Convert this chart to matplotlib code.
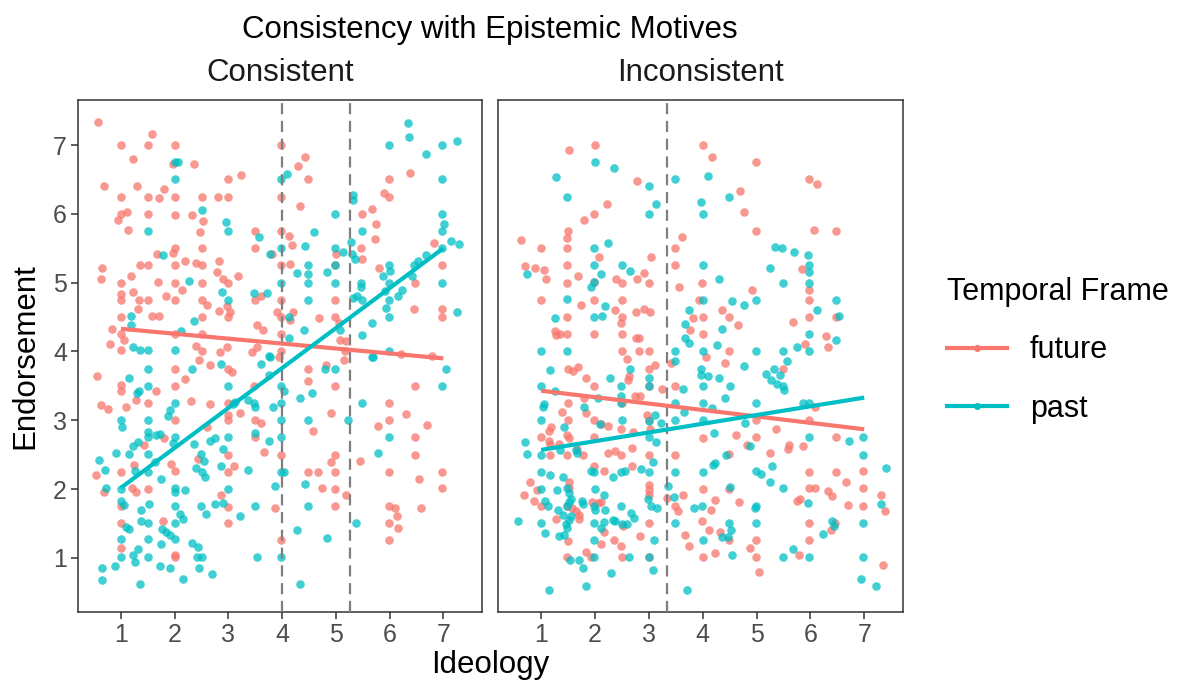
import numpy as np
import matplotlib
matplotlib.use("Agg")
import matplotlib.pyplot as plt
from matplotlib.lines import Line2D

plt.rcParams["font.family"] = ["Liberation Sans", "DejaVu Sans"]

RED = "#F8766D"
TEAL = "#00BFC4"

# ---- data (Ideology, Endorsement) ----
cons_future = [
    (0.58, 7.33), (1.58, 7.16), (1.0, 7.0), (1.5, 7.0), (2.0, 7.0), (1.22, 6.79), (1.96, 6.73),
    (2.35, 6.73), (3.23, 6.56), (2.99, 6.5), (0.68, 6.41), (1.29, 6.4), (1.8, 6.36), (1.0, 6.25),
    (1.5, 6.25), (1.7, 6.23), (2.0, 6.25), (2.5, 6.25), (2.8, 6.25), (3.0, 6.25), (1.0, 6.0),
    (1.12, 6.03), (0.94, 5.91), (1.5, 6.0), (2.0, 5.98), (2.32, 5.98), (2.53, 5.89), (1.14, 5.77),
    (2.47, 5.73), (3.49, 5.75), (3.49, 5.5), (2.0, 5.5), (1.96, 5.43), (1.67, 5.41), (2.5, 5.5),
    (0.64, 5.21), (0.62, 5.06), (1.36, 5.25), (1.5, 5.25), (2.0, 5.25), (2.19, 5.31), (2.39, 5.28),
    (2.5, 5.25), (2.83, 5.31), (2.78, 5.15), (2.9, 5.05), (2.99, 5.0), (3.18, 5.09), (1.0, 5.0),
    (1.19, 5.09), (1.68, 5.01), (2.0, 5.0), (2.5, 5.0), (2.14, 4.9), (1.0, 4.84), (1.23, 4.87),
    (1.0, 4.75), (1.34, 4.75), (1.5, 4.75), (1.83, 4.8), (2.0, 4.75), (2.5, 4.75), (2.6, 4.67),
    (2.97, 4.66), (3.49, 4.75), (3.61, 4.8), (2.82, 4.59), (3.02, 4.57), (1.32, 4.62), (1.0, 4.5),
    (1.58, 4.51), (1.7, 4.51), (2.5, 4.5), (3.0, 4.5), (0.84, 4.33), (1.0, 4.26), (1.06, 4.17),
    (2.0, 4.25), (2.5, 4.26), (3.53, 4.38), (3.65, 4.31), (0.8, 4.11), (1.0, 4.02), (2.39, 4.08),
    (2.5, 4.01), (2.97, 4.07), (2.84, 3.99), (3.43, 3.99), (3.53, 4.06),
    (3.98, 7.0), (4.42, 6.82), (4.3, 6.7), (4.49, 6.5), (3.98, 6.25), (4.34, 6.11), (3.98, 5.75),
    (4.12, 5.68), (4.18, 5.54), (3.82, 5.42), (3.98, 5.25), (4.15, 5.27), (3.98, 4.75), (3.91, 4.58),
    (3.98, 4.5), (4.15, 4.46), (4.2, 4.57), (3.98, 4.26), (3.98, 4.01), (4.69, 4.49), (4.98, 4.5),
    (5.01, 5.42), (4.98, 5.25), (4.98, 4.75), (5.05, 4.42), (5.08, 4.17), (5.19, 4.15), (5.17, 4.01),
    (5.48, 6.0), (5.47, 5.5), (5.48, 5.34), (5.68, 6.07), (5.75, 5.85), (5.73, 5.63), (5.81, 5.21),
    (5.89, 6.31), (5.98, 6.25), (5.98, 6.5), (6.38, 6.59), (6.47, 5.0), (6.46, 4.62), (6.83, 5.58),
    (6.97, 5.25), (6.97, 4.62), (6.97, 4.5), (6.21, 3.97), (6.78, 3.93),
    (0.56, 3.65), (1.0, 3.51), (1.0, 3.42), (0.63, 3.22), (0.75, 3.17), (1.09, 3.2), (1.28, 3.3),
    (1.5, 3.25), (1.66, 3.43), (2.0, 3.75), (2.0, 3.5), (2.2, 3.6), (2.3, 3.28), (2.0, 3.0),
    (2.45, 3.88), (2.66, 3.8), (2.99, 3.75), (3.06, 3.7), (2.66, 3.24), (2.99, 3.25), (2.99, 3.08),
    (2.99, 3.0), (3.22, 3.1), (2.61, 2.91), (3.47, 3.5), (3.49, 3.0), (3.61, 2.96), (3.49, 2.76),
    (3.67, 2.54), (1.43, 2.64), (1.81, 2.74), (1.25, 2.35), (1.0, 2.25), (0.53, 2.2), (0.68, 1.96),
    (1.21, 2.02), (1.28, 1.96), (1.5, 2.0), (1.93, 2.36), (2.0, 2.26), (2.43, 2.44), (2.99, 2.5),
    (2.99, 2.25), (3.11, 2.33), (2.86, 1.92), (2.99, 1.74), (2.99, 1.51), (1.0, 1.75), (1.0, 1.51),
    (1.79, 1.54), (1.0, 1.15), (2.0, 1.04), (2.0, 1.01),
    (3.95, 3.92), (4.49, 3.75), (4.82, 3.8), (5.16, 3.87), (4.49, 3.57), (4.98, 3.5), (4.91, 3.11),
    (4.58, 2.85), (3.98, 2.5), (4.98, 2.5), (4.9, 2.39), (5.44, 2.41), (4.49, 2.25), (4.67, 2.25),
    (4.98, 2.25), (4.75, 2.02), (4.98, 2.0), (5.18, 1.92), (4.98, 1.76), (3.87, 1.73), (3.98, 1.26),
    (5.78, 2.92), (5.98, 3.01), (5.98, 3.25), (6.31, 3.09), (6.7, 2.93), (6.47, 3.5), (6.47, 2.76),
    (6.47, 2.49), (5.98, 2.25), (6.54, 2.15), (6.97, 2.25), (6.97, 2.01), (5.98, 1.76), (6.1, 1.73),
    (6.13, 1.61), (6.15, 1.43), (5.98, 1.51), (5.98, 1.26), (6.59, 1.72),
]

cons_past = [
    (2.0, 6.75), (2.07, 6.76), (2.0, 6.5), (2.5, 6.06), (2.96, 5.88), (2.99, 5.75), (1.5, 5.75),
    (3.57, 5.66), (1.78, 5.4), (2.26, 5.03), (2.88, 4.87), (2.99, 4.75), (3.48, 4.85), (3.72, 4.85),
    (1.19, 4.51), (1.19, 4.38), (2.35, 4.45), (2.12, 4.3), (1.22, 4.07), (1.35, 4.02), (1.5, 4.02),
    (2.0, 4.02), (3.77, 5.42),
    (6.35, 7.32), (6.36, 7.11), (5.98, 7.0), (6.67, 6.87), (6.97, 7.0), (7.26, 7.06), (3.98, 6.5),
    (4.09, 6.58), (6.97, 6.5), (5.32, 6.28), (5.32, 6.2), (4.98, 6.0), (6.97, 6.0), (7.01, 5.85),
    (6.98, 5.75), (4.6, 5.73), (3.98, 5.5), (4.43, 5.53), (4.98, 5.5), (5.13, 5.45), (5.28, 5.59),
    (5.3, 5.42), (5.36, 5.35), (5.48, 5.75), (7.14, 5.61), (6.97, 5.5), (7.3, 5.56), (4.48, 5.25),
    (4.48, 5.13), (4.28, 5.14), (4.84, 5.15), (4.98, 5.25), (3.98, 5.0), (4.48, 5.0), (4.98, 5.0),
    (4.48, 4.75), (5.47, 5.0), (5.47, 4.93), (5.39, 4.8), (5.48, 4.75), (5.31, 4.78), (5.98, 5.25),
    (6.01, 5.17), (5.87, 5.09), (5.92, 4.88), (5.98, 5.0), (5.98, 4.75), (6.23, 4.89), (6.16, 4.81),
    (5.93, 4.63), (5.98, 4.5), (6.41, 5.09), (6.45, 5.25), (6.52, 5.32), (6.68, 5.4), (6.97, 5.0),
    (7.25, 4.58), (4.13, 4.5), (4.13, 4.19), (4.41, 4.31), (5.08, 4.31), (5.48, 4.24), (5.68, 4.41),
    (5.98, 4.01), (5.68, 3.92), (3.75, 3.94),
    (1.15, 3.62), (1.5, 3.75), (1.5, 3.5), (1.29, 3.39), (1.34, 3.43), (2.32, 3.75), (2.86, 3.82),
    (2.99, 3.5), (3.6, 3.82), (3.78, 3.92), (1.0, 3.0), (1.02, 2.9), (1.5, 3.0), (2.0, 3.25),
    (1.92, 3.15), (1.88, 3.06), (1.5, 2.83), (1.5, 2.76), (1.66, 2.78), (1.72, 2.8), (2.0, 2.76),
    (1.97, 2.67), (1.32, 2.68), (1.22, 2.62), (1.15, 2.51), (1.5, 2.51), (0.9, 2.52), (0.59, 2.43),
    (0.7, 2.28), (0.73, 2.01), (1.0, 2.0), (1.0, 1.83), (1.06, 1.77), (1.26, 2.27), (1.63, 2.39),
    (1.5, 2.25), (1.75, 2.15), (2.0, 2.01), (2.0, 1.96), (2.19, 1.99), (2.36, 2.65), (2.49, 2.51),
    (2.55, 2.41), (2.4, 2.3), (2.5, 2.25), (2.57, 2.18), (2.65, 2.7), (2.75, 2.75), (2.99, 2.76),
    (2.89, 2.58), (2.86, 2.33), (2.99, 2.0), (3.37, 2.28), (3.09, 3.23), (3.12, 3.26), (3.37, 3.29),
    (3.48, 3.25), (3.49, 3.2), (3.49, 2.82), (3.76, 2.7), (3.83, 3.19), (1.37, 1.7), (1.52, 1.79),
    (1.37, 1.54), (1.5, 1.51), (1.1, 1.45), (1.15, 1.42), (2.0, 1.76), (2.09, 1.64), (2.16, 1.57),
    (2.0, 1.51), (1.77, 1.42), (1.84, 1.38), (1.91, 1.33), (2.0, 1.27), (1.5, 1.27), (1.75, 1.2),
    (2.49, 1.76), (2.59, 1.64), (2.75, 1.79), (2.89, 1.8), (3.22, 1.61), (3.49, 1.75), (1.0, 1.27),
    (1.0, 1.01), (1.22, 1.04), (1.32, 1.13), (1.26, 0.94), (1.5, 1.01), (1.72, 0.88), (1.92, 0.85),
    (2.33, 1.22), (2.43, 1.16), (2.41, 1.02), (2.5, 1.01), (2.45, 0.85), (2.16, 0.7), (2.69, 0.76),
    (0.89, 0.88), (0.65, 0.85), (0.64, 0.68), (1.35, 0.62), (3.53, 1.02),
    (3.75, 3.66), (3.98, 3.5), (4.04, 3.42), (3.98, 3.25), (3.98, 3.01), (3.98, 2.76), (3.98, 2.25),
    (4.03, 2.25), (3.87, 2.04), (4.33, 3.32), (4.56, 3.39), (4.49, 3.01), (4.8, 3.75), (4.98, 3.75),
    (5.22, 3.0), (5.48, 3.25), (5.7, 3.92), (4.42, 2.07), (4.48, 1.76), (4.28, 1.41), (4.83, 1.29),
    (5.37, 1.51), (3.98, 1.01), (4.34, 0.62), (5.78, 2.52), (5.98, 2.76), (7.05, 3.75), (6.97, 3.5),
]

incons_future = [
    (1.51, 6.93), (2.0, 7.0), (2.79, 6.47), (2.22, 6.14), (1.99, 6.0), (1.8, 5.91), (1.5, 5.75),
    (1.49, 5.65), (0.63, 5.62), (1.0, 5.5), (1.49, 5.5), (2.08, 5.38), (3.04, 5.38), (0.7, 5.24),
    (0.89, 5.21), (1.06, 5.19), (1.1, 5.06), (1.49, 5.25), (1.68, 5.09), (1.49, 5.0), (1.99, 5.01),
    (2.39, 5.05), (2.5, 5.0), (2.78, 5.06), (2.92, 5.14), (3.0, 5.0), (1.0, 4.75), (1.99, 4.75),
    (2.5, 4.75), (1.74, 4.68), (1.49, 4.5), (2.38, 4.6), (2.5, 4.5), (2.48, 4.42), (2.77, 4.58),
    (2.91, 4.62), (3.03, 4.57), (1.25, 4.3), (1.35, 4.26), (1.49, 4.25), (1.28, 4.24), (1.99, 4.25),
    (2.5, 4.25), (2.77, 4.2), (2.82, 4.19), (2.5, 4.01), (2.82, 4.01), (3.0, 4.01), (3.61, 5.67),
    (3.49, 5.5), (3.49, 5.25), (3.56, 4.94), (3.98, 5.0), (3.77, 4.31), (3.83, 4.48), (3.93, 4.75),
    (4.0, 7.0), (4.17, 6.83), (4.99, 6.75), (4.69, 6.33), (4.77, 6.03), (4.99, 5.75), (5.98, 6.5),
    (6.12, 6.43), (6.07, 5.77), (6.48, 5.75), (5.85, 5.2), (4.91, 4.89), (5.98, 4.89), (5.98, 4.75),
    (4.36, 4.6), (4.49, 4.5), (4.66, 4.38), (5.67, 4.43), (5.98, 4.5), (6.48, 4.5), (4.0, 4.5),
    (4.0, 4.25), (6.29, 4.22), (6.32, 4.07), (5.9, 4.11), (4.49, 4.01), (4.07, 3.92),
    (1.5, 3.75), (1.69, 3.77), (1.6, 3.71), (1.83, 3.62), (1.99, 3.5), (2.6, 3.89), (2.63, 3.65),
    (2.61, 3.59), (3.0, 3.75), (3.11, 3.81), (3.0, 3.5), (3.25, 3.46), (3.41, 3.84), (3.49, 3.5),
    (2.74, 3.36), (2.84, 3.36), (1.5, 3.25), (1.79, 3.33), (2.5, 3.25), (2.96, 3.08), (3.0, 3.0),
    (1.39, 3.12), (1.5, 3.0), (1.83, 3.11), (1.99, 3.0), (2.12, 2.95), (2.25, 2.92), (2.48, 2.88),
    (2.71, 2.83), (3.02, 2.88), (1.18, 2.9), (1.14, 2.85), (1.0, 2.76), (1.15, 2.7), (1.17, 2.64),
    (1.34, 2.65), (1.49, 2.78), (1.52, 2.75), (1.66, 2.58), (1.99, 2.76), (1.16, 2.5), (1.49, 2.5),
    (1.78, 2.49), (2.25, 2.53), (2.37, 2.55), (2.69, 2.6), (3.0, 2.5), (3.49, 2.5), (2.49, 2.5),
    (1.98, 2.33), (2.16, 2.27), (2.69, 2.33), (0.8, 2.11), (0.92, 1.99), (0.68, 1.91), (0.86, 1.83),
    (1.0, 1.76), (1.52, 2.1), (1.52, 2.02), (3.0, 2.06), (3.0, 1.99), (3.0, 1.91), (1.95, 1.82),
    (2.06, 1.8), (2.11, 1.81), (1.64, 1.68), (1.7, 1.63), (1.49, 1.75), (1.57, 1.72), (1.27, 1.56),
    (1.71, 1.57), (2.17, 1.38), (2.52, 1.46), (3.0, 1.51), (3.33, 1.87), (3.48, 1.76), (3.55, 1.68),
    (3.64, 1.92), (2.84, 1.32), (1.5, 1.25), (2.11, 1.2), (2.36, 1.26), (2.48, 1.18), (1.84, 1.09),
    (1.93, 1.02), (1.49, 1.02), (2.5, 1.01), (3.0, 1.01), (3.68, 1.34), (3.74, 1.18),
    (4.42, 3.84), (5.49, 3.75), (4.0, 2.75), (4.62, 2.79), (4.99, 3.0), (4.99, 2.76), (5.36, 2.88),
    (4.82, 2.64), (4.49, 2.51), (5.25, 2.53), (5.61, 2.64), (5.59, 2.58), (5.87, 2.62), (5.98, 3.01),
    (6.09, 3.2), (6.48, 2.76), (4.0, 2.0), (4.49, 2.0), (4.22, 1.84), (4.15, 1.7), (4.68, 1.82),
    (3.99, 1.54), (4.11, 1.4), (4.32, 1.38), (4.49, 1.26), (4.22, 1.07), (4.0, 1.01), (4.87, 1.15),
    (4.99, 1.26), (4.99, 1.01), (5.05, 0.8), (5.79, 1.05), (5.76, 1.83), (5.8, 1.85), (5.98, 2.25),
    (5.98, 2.01), (6.08, 2.01), (5.98, 1.51), (5.98, 1.26), (6.48, 2.25), (6.67, 2.11), (6.33, 1.98),
    (6.4, 1.9), (6.69, 1.77), (6.98, 2.26), (6.98, 2.01), (6.98, 1.75), (6.46, 1.51), (6.39, 1.4),
    (7.31, 1.92), (7.38, 1.68), (7.34, 0.9),
]

incons_past = [
    (2.0, 6.75), (2.35, 6.66), (1.27, 6.53), (3.0, 6.4), (3.49, 6.5), (1.49, 6.25), (3.14, 6.14),
    (3.0, 6.0), (1.99, 5.5), (2.24, 5.57), (1.99, 5.25), (2.12, 5.13), (2.5, 5.25), (2.66, 5.17),
    (0.73, 5.13), (1.99, 5.01), (1.93, 4.93), (1.49, 4.76), (2.19, 4.66), (1.99, 4.5), (2.13, 4.51),
    (1.26, 4.49), (1.0, 4.01), (1.49, 4.01), (3.49, 4.01), (3.74, 4.61), (3.68, 4.4), (3.67, 4.2),
    (3.74, 4.13),
    (4.09, 6.55), (4.49, 6.25), (3.96, 6.17), (4.0, 6.0), (5.35, 5.52), (5.48, 5.5), (5.69, 5.45),
    (5.95, 5.4), (5.98, 5.25), (5.98, 5.15), (5.25, 5.22), (4.0, 5.25), (4.3, 5.06), (5.49, 5.0),
    (5.98, 5.0), (4.54, 4.73), (4.76, 4.68), (4.99, 4.75), (4.0, 4.75), (6.12, 4.6), (6.48, 4.75),
    (6.54, 4.51), (4.35, 4.33), (5.98, 4.25), (6.47, 4.17), (4.27, 4.09), (4.99, 4.01), (5.49, 4.01),
    (5.75, 4.06), (5.98, 4.01), (4.0, 4.01),
    (1.17, 3.73), (1.0, 3.5), (1.25, 3.43), (1.06, 3.24), (1.04, 3.19), (1.0, 3.0), (1.42, 2.91),
    (2.05, 3.32), (1.79, 3.2), (2.28, 3.61), (2.49, 3.5), (2.66, 3.74), (3.0, 3.62), (3.0, 3.5),
    (2.48, 3.36), (2.49, 3.25), (2.5, 3.0), (2.09, 2.94), (3.0, 2.99), (3.11, 3.08), (3.22, 2.96),
    (3.49, 3.25), (3.49, 3.0), (3.66, 3.12), (3.49, 3.86), (3.64, 3.46), (3.0, 2.76), (3.14, 2.69),
    (0.7, 2.69), (0.73, 2.51), (1.0, 2.5), (1.35, 2.57), (1.64, 2.57), (1.67, 2.52), (3.07, 2.4),
    (1.93, 2.27), (1.99, 2.25), (2.49, 2.25), (2.55, 2.27), (2.33, 2.18), (2.85, 2.29), (3.0, 2.25),
    (3.49, 2.25), (1.0, 2.25), (1.17, 2.21), (1.41, 2.17), (1.0, 2.0), (1.3, 1.99), (1.49, 2.02),
    (1.52, 1.95), (1.56, 1.86), (1.52, 1.81), (1.49, 1.76), (1.07, 1.83), (1.12, 1.75), (1.76, 1.83),
    (1.78, 1.79), (2.0, 2.0), (2.17, 1.92), (1.99, 1.75), (2.0, 1.69), (2.19, 1.69), (2.49, 1.76),
    (2.67, 1.66), (2.72, 1.58), (2.99, 1.86), (3.05, 1.76), (3.16, 1.73), (3.35, 2.04), (3.46, 1.88),
    (3.84, 1.72), (1.32, 1.69), (1.41, 1.63), (1.51, 1.55), (1.47, 1.49), (1.56, 1.61), (1.49, 1.43),
    (1.34, 1.32), (1.43, 1.34), (0.58, 1.54), (1.0, 1.51), (1.08, 1.36), (1.98, 1.51), (2.16, 1.52),
    (2.33, 1.55), (2.38, 1.53), (2.5, 1.5), (2.59, 1.49), (2.11, 1.43), (1.99, 1.26), (3.49, 1.51),
    (3.1, 1.26), (1.53, 0.97), (1.71, 0.97), (1.77, 0.86), (1.99, 1.01), (2.63, 1.01), (3.0, 1.01),
    (2.29, 0.78), (3.08, 0.82), (1.14, 0.53), (1.83, 0.6), (3.71, 0.53),
    (3.96, 3.75), (3.96, 3.66), (4.09, 3.65), (4.0, 3.5), (4.31, 3.62), (4.5, 3.5), (4.42, 3.33),
    (4.76, 3.79), (5.56, 3.86), (5.18, 3.67), (5.26, 3.59), (5.32, 3.75), (5.43, 3.66), (5.38, 3.53),
    (5.49, 3.5), (5.51, 3.44), (4.0, 3.25), (4.17, 3.18), (4.99, 3.25), (4.0, 3.0), (5.86, 3.25),
    (5.98, 3.25), (4.78, 2.96), (4.21, 2.82), (4.87, 2.62), (5.98, 2.76), (6.72, 2.7), (6.98, 2.76),
    (6.98, 2.5), (4.43, 2.49), (4.19, 2.35), (4.23, 2.38), (4.0, 2.25), (4.99, 2.26), (5.08, 2.22),
    (5.29, 2.33), (5.25, 2.1), (5.49, 2.01), (4.5, 2.03), (3.99, 1.76), (4.99, 1.75), (4.97, 1.72),
    (4.99, 1.51), (4.49, 1.51), (4.53, 1.41), (4.36, 1.3), (4.47, 1.3), (4.0, 1.26), (4.55, 1.04),
    (5.68, 1.13), (5.49, 1.01), (5.98, 1.01), (5.96, 1.8), (6.41, 1.54), (6.43, 1.46), (6.23, 1.35),
    (6.98, 1.51), (6.98, 1.01), (6.94, 0.7), (7.21, 0.6), (7.4, 2.3), (7.32, 1.78),
]

# fitted lines: endorsement at ideology = 1 and 7
fit_x = [1, 7]
cons_future_fit = [4.33, 3.90]
cons_past_fit = [2.02, 5.50]
incons_future_fit = [3.43, 2.87]
incons_past_fit = [2.57, 3.33]

# dashed reference lines
cons_vlines = [4.0, 5.27]
incons_vlines = [3.34]

panels = [
    ("Consistent", cons_future, cons_past, cons_future_fit, cons_past_fit, cons_vlines),
    ("Inconsistent", incons_future, incons_past, incons_future_fit, incons_past_fit, incons_vlines),
]

W, H = 1184, 684
fig = plt.figure(figsize=(W / 100, H / 100), dpi=100)
ax1 = fig.add_axes([78 / W, (H - 612) / H, 404 / W, 512 / H])
ax2 = fig.add_axes([498 / W, (H - 612) / H, 405 / W, 512 / H])

for ax, (name, fut, pst, ffit, pfit, vl) in zip([ax1, ax2], panels):
    fut = np.array(fut)
    pst = np.array(pst)
    ax.scatter(fut[:, 0], fut[:, 1], s=38, color=RED, alpha=0.75, linewidths=0, zorder=2)
    ax.scatter(pst[:, 0], pst[:, 1], s=38, color=TEAL, alpha=0.75, linewidths=0, zorder=2)
    for v in vl:
        ax.axvline(v, color="#7F7F7F", lw=1.6, ls=(0, (5, 3)), zorder=3)
    ax.plot(fit_x, ffit, color=RED, lw=3.0, zorder=4, solid_capstyle="butt")
    ax.plot(fit_x, pfit, color=TEAL, lw=3.0, zorder=4, solid_capstyle="butt")
    ax.set_xlim(0.2, 7.72)
    ax.set_ylim(0.215, 7.654)
    ax.set_xticks(range(1, 8))
    ax.set_yticks(range(1, 8))
    ax.tick_params(length=5, width=1.1, color="#333333", labelsize=18,
                   labelcolor="#4D4D4D", pad=3)
    for sp in ax.spines.values():
        sp.set_color("#333333")
        sp.set_linewidth(1.1)
    cx = (ax.get_position().x0 + ax.get_position().x1) / 2
    fig.text(cx, 1 - 73 / H, name, ha="center", va="center", fontsize=22.5, color="#1A1A1A")

ax2.tick_params(left=False, labelleft=False)

fig.text(490 / W, 1 - 30 / H, "Consistency with Epistemic Motives", ha="center", va="center",
         fontsize=22.5)
fig.text(490 / W, 1 - 665 / H, "Ideology", ha="center", va="center", fontsize=22.5)
fig.text(25 / W, 1 - 356 / H, "Endorsement", ha="center", va="center", rotation=90,
         fontsize=22.5)

handles = [
    Line2D([0], [0], color=RED, lw=3.0, marker="o", markersize=4),
    Line2D([0], [0], color=TEAL, lw=3.0, marker="o", markersize=4),
]
fig.legend(handles, ["future", "past"], title="Temporal Frame", loc="upper left",
           bbox_to_anchor=(932 / W, 1 - 262 / H), frameon=False, fontsize=22,
           title_fontsize=22, handlelength=1.95, handletextpad=0.75, labelspacing=0.92,
           alignment="left", borderpad=0)

fig.savefig("out.png", dpi=100)
